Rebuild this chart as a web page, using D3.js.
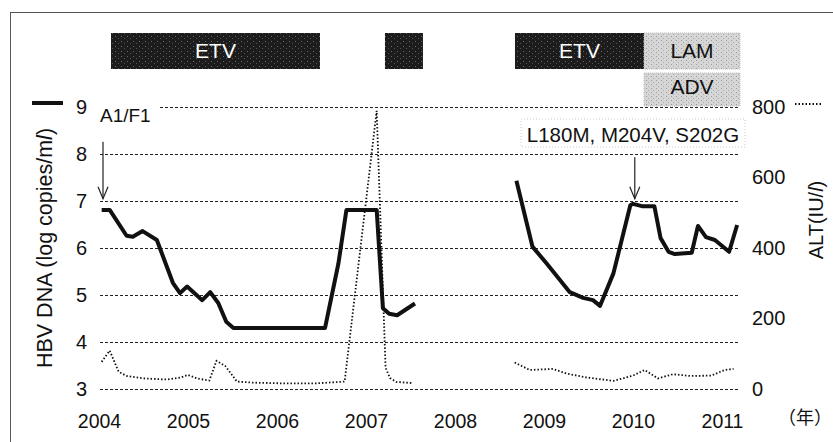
<!DOCTYPE html>
<html>
<head>
<meta charset="utf-8">
<script src="https://cdnjs.cloudflare.com/ajax/libs/d3/7.8.5/d3.min.js"></script>
<style>
  body { margin: 0; background: #fff; }
  svg { font-family: "Liberation Sans", Arial, sans-serif; }
</style>
</head>
<body>
<div id="chart"></div>
<script>
// HBV DNA (log copies/ml), two observation periods
const dnaYearsA = [2004.03, 2004.12, 2004.31, 2004.38, 2004.49, 2004.65, 2004.83, 2004.91, 2004.99, 2005.16, 2005.25, 2005.34, 2005.43, 2005.51, 2006.54, 2006.69, 2006.78, 2007.12, 2007.19, 2007.26, 2007.35, 2007.55];
const dnaA = [6.81, 6.81, 6.26, 6.24, 6.36, 6.17, 5.26, 5.04, 5.18, 4.89, 5.06, 4.83, 4.43, 4.30, 4.30, 5.67, 6.81, 6.81, 4.72, 4.60, 4.57, 4.82];
const dnaYearsB = [2008.69, 2008.87, 2009.03, 2009.29, 2009.44, 2009.55, 2009.63, 2009.78, 2009.97, 2010.00, 2010.10, 2010.24, 2010.31, 2010.40, 2010.47, 2010.66, 2010.73, 2010.82, 2010.92, 2011.08, 2011.17];
const dnaB = [7.43, 6.03, 5.67, 5.06, 4.94, 4.89, 4.77, 5.46, 6.91, 6.94, 6.89, 6.89, 6.21, 5.92, 5.87, 5.90, 6.47, 6.23, 6.17, 5.92, 6.49];

// ALT (IU/l)
const altYearsA = [2004.03, 2004.12, 2004.22, 2004.31, 2004.50, 2004.76, 2004.91, 2005.00, 2005.10, 2005.24, 2005.32, 2005.42, 2005.55, 2005.73, 2006.07, 2006.44, 2006.76, 2007.12, 2007.22, 2007.27, 2007.34, 2007.51];
const altA = [77, 109, 49, 37, 30, 27, 32, 40, 30, 24, 80, 65, 21, 18, 16, 16, 21, 789, 60, 31, 20, 17];
const altYearsB = [2008.67, 2008.84, 2009.10, 2009.25, 2009.47, 2009.78, 2010.00, 2010.13, 2010.28, 2010.45, 2010.64, 2010.88, 2011.03, 2011.13];
const altB = [75, 54, 57, 44, 33, 23, 38, 54, 30, 42, 37, 38, 54, 57];

// treatment periods
const drugNames = ["ETV", "", "ETV", "LAM", "ADV"];
const drugStart = [2004.135, 2007.213, 2008.674, 2010.124, 2010.124];
const drugEnd = [2006.483, 2007.64, 2010.124, 2011.202, 2011.202];
const drugRow = [0, 0, 0, 0, 1];
const drugDark = [true, true, true, false, false];

const yearTicks = [2004, 2005, 2006, 2007, 2008, 2009, 2010, 2011];
const dnaTicks = [3, 4, 5, 6, 7, 8, 9];
const altTicks = [0, 200, 400, 600, 800];

// annotations
const noteText = ["A1/F1", "L180M, M204V, S202G"];
const noteYear = [2004.045, 2010.02];

const width = 833, height = 442;
const plot = { left: 99, right: 740, top: 107, bottom: 389 };

const x = d3.scaleLinear().domain([2004, 2011.2]).range([plot.left, plot.left + 7.2 * 89]);
const yL = d3.scaleLinear().domain([3, 9]).range([plot.bottom, plot.top]);
const yR = d3.scaleLinear().domain([0, 800]).range([plot.bottom, plot.top]);

const svg = d3.select("#chart").append("svg")
    .attr("width", width)
    .attr("height", height);

const defs = svg.append("defs");
const dark = defs.append("pattern").attr("id", "darkTex")
    .attr("width", 6).attr("height", 5).attr("patternUnits", "userSpaceOnUse");
dark.append("rect").attr("width", 6).attr("height", 5).attr("fill", "#1c1c1c");
dark.append("rect").attr("x", 1).attr("y", 1).attr("width", 1).attr("height", 1).attr("fill", "#6a6a6a");
dark.append("rect").attr("x", 4).attr("y", 3).attr("width", 1).attr("height", 1).attr("fill", "#555");
const light = defs.append("pattern").attr("id", "lightTex")
    .attr("width", 5).attr("height", 4).attr("patternUnits", "userSpaceOnUse");
light.append("rect").attr("width", 5).attr("height", 4).attr("fill", "#d6d6d6");
light.append("rect").attr("x", 1).attr("y", 0).attr("width", 1).attr("height", 1).attr("fill", "#9a9a9a");
light.append("rect").attr("x", 3).attr("y", 2).attr("width", 1).attr("height", 1).attr("fill", "#aaa");

// frame (only top and left visible in the scan)
svg.append("line").attr("x1", 10).attr("x2", width).attr("y1", 12.5).attr("y2", 12.5)
    .attr("stroke", "#555").attr("stroke-width", 1);
svg.append("line").attr("x1", 10.5).attr("x2", 10.5).attr("y1", 12).attr("y2", height)
    .attr("stroke", "#555").attr("stroke-width", 1);

// gridlines
svg.append("g").selectAll("line")
    .data(dnaTicks)
    .join("line")
    .attr("x1", plot.left + 1)
    .attr("x2", plot.right)
    .attr("y1", d => yL(d) + 0.5)
    .attr("y2", d => yL(d) + 0.5)
    .attr("stroke", "#222")
    .attr("stroke-width", 1)
    .attr("stroke-dasharray", "3,2");

// treatment bars
const rowTop = [33, 73], rowH = [36, 33];
const bars = svg.append("g").selectAll("g")
    .data(drugNames.map((n, i) => ({ name: n, s: drugStart[i], e: drugEnd[i], row: drugRow[i], dark: drugDark[i] })))
    .join("g");
bars.append("rect")
    .attr("x", d => x(d.s))
    .attr("y", d => rowTop[d.row])
    .attr("width", d => x(d.e) - x(d.s))
    .attr("height", d => rowH[d.row])
    .attr("fill", d => d.dark ? "url(#darkTex)" : "url(#lightTex)")
    .attr("stroke", d => d.dark ? "none" : "#b5b5b5")
    .attr("stroke-dasharray", "1,1");
bars.append("text")
    .attr("x", d => (x(d.s) + x(d.e)) / 2)
    .attr("y", d => rowTop[d.row] + (d.row === 0 ? 25 : 21))
    .attr("text-anchor", "middle")
    .attr("font-size", 21)
    .attr("fill", d => d.dark ? "#fff" : "#111")
    .text(d => d.name);

// axes
const xAxis = svg.append("g")
    .attr("transform", `translate(0, ${plot.bottom})`)
    .call(d3.axisBottom(x).tickValues(yearTicks).tickFormat(d3.format("d")).tickSize(0).tickPadding(25));
xAxis.select(".domain").remove();
xAxis.selectAll("text").attr("font-size", 19.5).attr("fill", "#111").attr("font-family", null);

const leftAxis = svg.append("g")
    .attr("transform", `translate(${plot.left}, 0)`)
    .call(d3.axisLeft(yL).tickValues(dnaTicks).tickFormat(d3.format("d")).tickSize(0).tickPadding(12));
leftAxis.select(".domain").remove();
leftAxis.selectAll("text").attr("font-size", 20).attr("fill", "#111").attr("font-family", null);

const rightAxis = svg.append("g")
    .attr("transform", `translate(${plot.right}, 0)`)
    .call(d3.axisRight(yR).tickValues(altTicks).tickFormat(d3.format("d")).tickSize(0).tickPadding(12));
rightAxis.select(".domain").remove();
rightAxis.selectAll("text").attr("font-size", 20).attr("fill", "#111").attr("font-family", null);

svg.append("text")
    .attr("x", 778).attr("y", 424)
    .attr("font-size", 18)
    .attr("font-family", "'Noto Sans CJK JP', sans-serif")
    .attr("fill", "#111")
    .text("（年）");

// axis titles
const tL = svg.append("text")
    .attr("transform", `translate(52, ${(plot.top + plot.bottom) / 2}) rotate(-90)`)
    .attr("text-anchor", "middle")
    .attr("font-size", 21.5)
    .attr("fill", "#111");
tL.append("tspan").text("HBV DNA (log copies/m");
tL.append("tspan").attr("font-style", "italic").text("l");
tL.append("tspan").text(")");

const tR = svg.append("text")
    .attr("transform", `translate(823, 220) rotate(-90)`)
    .attr("text-anchor", "middle")
    .attr("font-size", 20)
    .attr("fill", "#111");
tR.append("tspan").text("ALT(IU/");
tR.append("tspan").attr("font-style", "italic").text("l");
tR.append("tspan").text(")");

// legend marks
svg.append("line").attr("x1", 32).attr("x2", 63).attr("y1", 103).attr("y2", 103)
    .attr("stroke", "#111").attr("stroke-width", 4);
svg.append("line").attr("x1", 795).attr("x2", 823).attr("y1", 104).attr("y2", 104)
    .attr("stroke", "#111").attr("stroke-width", 1.8).attr("stroke-dasharray", "1.5,2");

// data lines
const dnaLine = d3.line().x(d => x(d[0])).y(d => yL(d[1]));
const altLine = d3.line().x(d => x(d[0])).y(d => yR(d[1]));

[[altYearsA, altA], [altYearsB, altB]].forEach(([t, v]) => {
  svg.append("path")
      .datum(t.map((d, i) => [d, v[i]]))
      .attr("d", altLine)
      .attr("fill", "none")
      .attr("stroke", "#111")
      .attr("stroke-width", 1.8)
      .attr("stroke-dasharray", "1.5,2");
});

[[dnaYearsA, dnaA], [dnaYearsB, dnaB]].forEach(([t, v]) => {
  svg.append("path")
      .datum(t.map((d, i) => [d, v[i]]))
      .attr("d", dnaLine)
      .attr("fill", "none")
      .attr("stroke", "#111")
      .attr("stroke-width", 4)
      .attr("stroke-linejoin", "round");
});

// annotations with arrows
const arrowTop = [8.26, 7.93];
noteText.forEach((txt, i) => {
  const ax = x(noteYear[i]);
  const y0 = yL(arrowTop[i]), y1 = yL(7.05);
  svg.append("line").attr("x1", ax).attr("x2", ax).attr("y1", y0).attr("y2", y1)
      .attr("stroke", "#222").attr("stroke-width", 1.2);
  svg.append("path")
      .attr("d", `M${ax - 5},${y1 - 12}L${ax},${y1}L${ax + 5},${y1 - 12}`)
      .attr("fill", "none").attr("stroke", "#222").attr("stroke-width", 1.2);
});

const note1 = svg.append("g");
note1.append("rect").attr("x", x(2004) - 1).attr("y", 100).attr("width", 62).attr("height", 24).attr("fill", "#fff");
note1.append("text").attr("x", x(2004) + 1).attr("y", 122).attr("font-size", 19).attr("fill", "#111").text(noteText[0]);

const note2 = svg.append("g");
note2.append("rect").attr("x", 521).attr("y", 119).attr("width", 224).attr("height", 28).attr("fill", "#fff")
    .attr("stroke", "#ccc").attr("stroke-dasharray", "1,2");
note2.append("text").attr("x", 633).attr("y", 142).attr("text-anchor", "middle")
    .attr("font-size", 20.5).attr("fill", "#111").text(noteText[1]);
</script>
</body>
</html>
